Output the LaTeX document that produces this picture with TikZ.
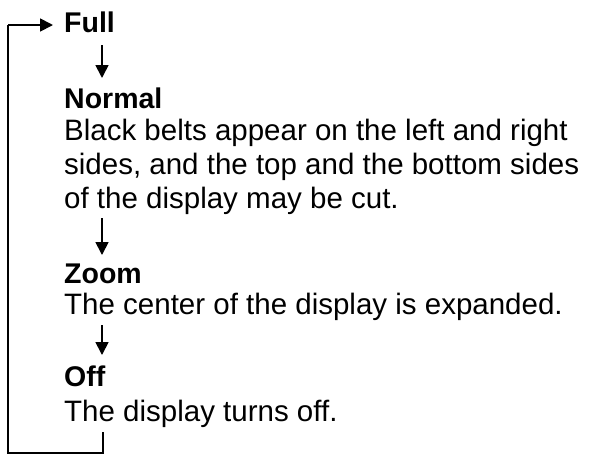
\documentclass[tikz,border=0pt]{standalone}
\usepackage{fontspec}
\setmainfont{Liberation Sans}
\usetikzlibrary{arrows.meta}
\tikzset{
  head/.style={anchor=base west, inner sep=0pt, font=\fontsize{28.5}{34}\selectfont\bfseries},
  desc/.style={anchor=base west, inner sep=0pt, font=\fontsize{29.5}{34}\selectfont},
  arr/.style={line width=1.8pt, -{Triangle[length=13pt,width=13pt]}},
  ln/.style={line width=1.8pt}
}
\begin{document}
\begin{tikzpicture}[x=1pt,y=1pt]
\useasboundingbox (0,0) rectangle (590,-456);
\node[head] (full) at (64,-32) {Full};
\node[head] (normal) at (64,-108) {Normal};
\node[desc] (n1) at (64,-140) {Black belts appear on the left and right};
\node[desc] (n2) at (64,-174) {sides, and the top and the bottom sides};
\node[desc] (n3) at (64,-208) {of the display may be cut.};
\node[head] (zoom) at (64,-283) {Zoom};
\node[desc] (z1) at (64,-314) {The center of the display is expanded.};
\node[head] (off) at (64,-386) {Off};
\node[desc] (o1) at (64,-421) {The display turns off.};
\draw[arr] ([shift={(38,-13)}]full.base west) -- ([shift={(38,30)}]normal.base west);
\draw[arr] ([shift={(38,-10)}]n3.base west) -- ([shift={(38,28)}]zoom.base west);
\draw[arr] ([shift={(38,-11)}]z1.base west) -- ([shift={(38,31)}]off.base west);
\coordinate (c1) at ([shift={(39,-11)}]o1.base west);
\coordinate (c2) at ([shift={(39,-32)}]o1.base west);
\coordinate (c3) at (8,-453);
\coordinate (c4) at (8,-25);
\draw[ln] (c1) -- (c2) -- (c3) -- (c4);
\draw[arr] (c4) -- ([shift={(-11,7)}]full.base west);
\end{tikzpicture}
\end{document}
